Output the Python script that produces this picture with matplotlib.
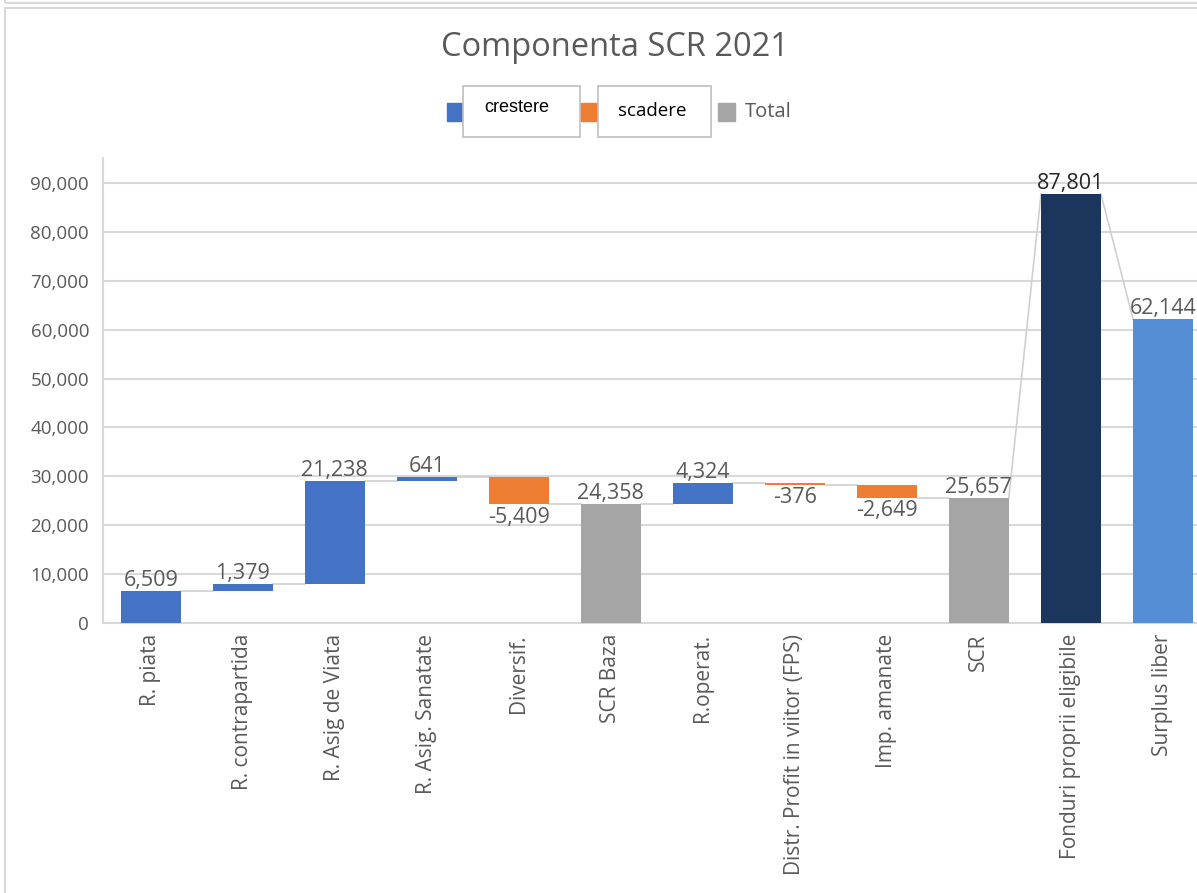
import matplotlib
matplotlib.use("Agg")
import matplotlib.pyplot as plt
from matplotlib.patches import Rectangle

plt.rcParams['font.family'] = ['Open Sans', 'DejaVu Sans']

categories = ["R. piata", "R. contrapartida", "R. Asig de Viata", "R. Asig. Sanatate",
              "Diversif.", "SCR Baza", "R.operat.", "Distr. Profit in viitor (FPS)",
              "Imp. amanate", "SCR", "Fonduri proprii eligibile", "Surplus liber"]
values = [6509, 1379, 21238, 641, -5409, 24358, 4324, -376, -2649, 25657, 87801, 62144]
is_total = [False, False, False, False, False, True, False, False, False, True, True, True]
labels = ["6,509", "1,379", "21,238", "641", "-5,409", "24,358", "4,324", "-376",
          "-2,649", "25,657", "87,801", "62,144"]

c_up = "#4472C4"
c_down = "#ED7D31"
c_total = "#A5A5A5"
special = {10: "#1A365D", 11: "#558ED5"}
txt = "#595959"

W, H = 1197, 893
fig = plt.figure(figsize=(W / 100, H / 100), dpi=100)

def fx(x):
    return x / W

def fy(y):
    return 1 - y / H

# outer frame lines
fig.patches.append(Rectangle((fx(5), fy(920)), fx(1250), fy(8) - fy(920), transform=fig.transFigure,
                             fill=False, edgecolor="#D9D9D9", lw=1.5))
fig.patches.append(Rectangle((fx(5), fy(3)), fx(1250), 0.01, transform=fig.transFigure,
                             fill=False, edgecolor="#D9D9D9", lw=1.5))

ax = fig.add_axes([fx(103), fy(623), 1 - fx(103), fy(158) - fy(623)])

w = 0.65
cum = 0
for i, v in enumerate(values):
    if is_total[i]:
        b, t = 0, v
        cum = v
        col = special.get(i, c_total)
    else:
        b, t = cum, cum + v
        cum = t
        col = c_up if v >= 0 else c_down
    lo, hi = min(b, t), max(b, t)
    ax.bar(i, hi - lo, bottom=lo, width=w, color=col, zorder=3)
    if v < 0:
        ax.annotate(labels[i], (i, lo), xytext=(0, -2), textcoords="offset points",
                    ha="center", va="top", fontsize=15.5, color=txt, zorder=5)
    else:
        ax.annotate(labels[i], (i, hi), xytext=(0, 0), textcoords="offset points",
                    ha="center", va="bottom", fontsize=15.5,
                    color="#262626" if i == 10 else txt, zorder=5)

# connector lines
levels = []
cum = 0
for i, v in enumerate(values):
    cum = v if is_total[i] else cum + v
    levels.append(cum)
for i in range(len(values) - 1):
    nxt = values[i + 1] if is_total[i + 1] else levels[i]
    ax.plot([i + w / 2, i + 1 - w / 2], [levels[i], nxt], color="#D0D0D0", lw=1.2, zorder=2)

ax.set_xlim(-0.52, 11.37)
ax.set_ylim(0, 95100)
ax.set_yticks(range(0, 90001, 10000))
ax.set_yticklabels([f"{t:,}" for t in range(0, 90001, 10000)], fontsize=13.5, color=txt)
ax.set_xticks(range(len(categories)))
ax.set_xticklabels(categories, rotation=90, fontsize=15, color=txt, va="top")
ax.tick_params(length=0, pad=8)
ax.tick_params(axis="y", pad=10)
ax.yaxis.grid(True, color="#D9D9D9", lw=1.5, zorder=0)
ax.set_axisbelow(True)
for s in ["top", "right"]:
    ax.spines[s].set_visible(False)
ax.spines["left"].set_color("#D9D9D9")
ax.spines["bottom"].set_color("#D9D9D9")
ax.spines["left"].set_linewidth(1.5)
ax.spines["bottom"].set_linewidth(1.5)

fig.text(fx(615), fy(47), "Componenta SCR 2021", ha="center", va="center", fontsize=23.5, color=txt)

# legend
fig.patches.append(Rectangle((fx(447), fy(121)), fx(15), fy(103) - fy(121), transform=fig.transFigure,
                             color=c_up))
fig.patches.append(Rectangle((fx(463), fy(137)), fx(117), fy(86) - fy(137), transform=fig.transFigure,
                             facecolor="white", edgecolor="#BFBFBF", lw=1.2))
fig.text(fx(517), fy(108), "crestere", ha="center", va="center", fontsize=13, color="black",
         family=["Liberation Sans", "DejaVu Sans"])
fig.patches.append(Rectangle((fx(581), fy(121)), fx(16), fy(103) - fy(121), transform=fig.transFigure,
                             color=c_down))
fig.patches.append(Rectangle((fx(598), fy(137)), fx(113), fy(86) - fy(137), transform=fig.transFigure,
                             facecolor="white", edgecolor="#BFBFBF", lw=1.2))
fig.text(fx(652), fy(111), "scadere", ha="center", va="center", fontsize=13.5, color="black")
fig.patches.append(Rectangle((fx(718), fy(121)), fx(17), fy(103) - fy(121), transform=fig.transFigure,
                             color=c_total))
fig.text(fx(745), fy(112), "Total", ha="left", va="center", fontsize=14.5, color=txt)

fig.savefig("out.png", dpi=100)
